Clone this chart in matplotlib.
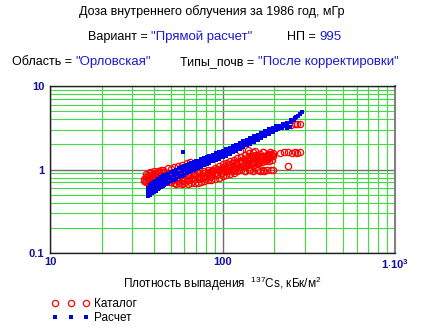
import matplotlib
matplotlib.use("Agg")
import matplotlib.pyplot as plt

plt.rcParams['font.family'] = ['Liberation Sans', 'DejaVu Sans']
plt.rcParams['mathtext.default'] = 'regular'

W, H = 424, 329
BLUE_TXT = '#1a1ad0'
TICK_C = '#10109a'

# --- data ---
# Каталог (red open circles)
cat_x = [35, 35, 36, 36, 36, 37, 37, 37, 38, 38, 38, 38, 39, 39, 39, 40, 40, 40, 40,
         41, 41, 41, 42, 42, 42, 42, 43, 43, 44, 44, 44, 45, 45, 45, 46, 46, 47, 47,
         48, 48, 49, 49, 50,
         36, 38, 40, 42, 44, 46, 48,
         52, 55, 58, 62, 65, 67, 44, 48,
         50, 50, 52, 52, 54, 54, 54, 56, 56, 58, 58, 58, 60, 60, 60, 63, 63, 63,
         66, 66, 66, 69, 69, 69, 72, 72, 72, 75, 75, 75, 78, 78, 78, 82, 82, 82,
         86, 86, 86, 90, 90, 90, 95, 95, 95, 100, 100, 100, 105, 105, 105,
         110, 110, 110, 116, 116, 116, 122, 122, 122, 128, 128, 128,
         135, 135, 135, 135, 142, 142, 142, 142, 150, 150, 150, 150,
         158, 158, 158, 158, 165, 165, 165, 172, 172, 172, 180, 180, 180,
         188, 188, 196, 196,
         84, 92, 98, 108, 113, 119, 125, 132, 139, 146, 154, 162, 169, 177, 185,
         88, 96, 104, 112, 120, 130, 138, 147, 156, 168, 176, 184, 192,
         55, 59, 64, 68, 73, 77, 83, 87, 93, 99, 103, 108, 114, 120, 126, 133,
         140, 148, 155, 163, 170, 178, 186, 194,
         55, 59, 64, 68, 73, 77, 83, 87, 93, 99, 103, 108, 114, 120, 126, 133,
         140, 148, 155, 163, 170, 178, 186, 194,
         115, 125, 135, 145, 160, 175, 190, 196,
         126, 140, 155, 172, 215, 228, 240, 252, 262, 270, 281, 240,
         250, 262, 272, 281]
cat_y = [0.72, 0.78, 0.70, 0.75, 0.82, 0.73, 0.79, 0.86, 0.70, 0.76, 0.83, 0.90, 0.72, 0.78, 0.85,
         0.74, 0.80, 0.88, 0.95, 0.71, 0.77, 0.84, 0.73, 0.80, 0.87, 0.97, 0.75, 0.82,
         0.70, 0.78, 0.86, 0.73, 0.80, 0.99, 0.76, 0.84, 0.72, 0.79, 0.75, 0.83, 0.70, 0.78, 1.02,
         0.88, 0.94, 0.92, 0.91, 0.93, 0.90, 0.92,
         1.07, 1.10, 1.12, 1.18, 1.22, 1.15, 1.00, 1.03,
         0.70, 0.80, 0.68, 0.83, 0.67, 0.76, 0.87, 0.68, 0.81, 0.67, 0.75, 0.85, 0.68, 0.79, 0.88,
         0.67, 0.75, 0.83, 0.68, 0.80, 0.90, 0.68, 0.78, 0.86, 0.69, 0.82, 0.93, 0.70, 0.79, 0.88,
         0.72, 0.84, 0.96, 0.74, 0.88, 1.00, 0.75, 0.83, 0.94, 0.78, 0.90, 1.05, 0.80, 0.95, 1.10,
         0.83, 0.98, 1.15, 0.86, 1.02, 1.20, 0.88, 1.06, 1.25, 0.92, 1.10, 1.30, 0.95, 1.15, 1.36,
         0.98, 1.20, 1.42, 0.97, 1.12, 1.28, 1.50, 1.00, 1.18, 1.35, 1.58, 0.97, 1.22, 1.42, 1.62,
         1.00, 1.18, 1.30, 1.48, 0.97, 1.25, 1.55, 1.00, 1.30, 1.62, 0.98, 1.35, 1.50,
         1.40, 1.60, 1.45, 1.58,
         0.85, 0.87, 0.92, 0.95, 0.99, 1.03, 1.08, 1.10, 1.14, 1.18, 1.22, 1.26, 1.30, 1.34, 1.38,
         0.97, 1.00, 1.05, 1.12, 1.22, 1.26, 1.30, 1.32, 1.38, 1.42, 1.46, 1.52, 1.55,
         0.72, 0.73, 0.74, 0.76, 0.77, 0.80, 0.82, 0.85, 0.88, 0.92, 0.95, 0.98, 1.02, 1.05,
         1.08, 1.10, 1.12, 1.15, 1.20, 1.20, 1.22, 1.25, 1.28, 1.30,
         0.78, 0.82, 0.86, 0.88, 0.90, 0.92, 0.94, 0.98, 1.02, 1.05, 1.10, 1.15, 1.18, 1.20,
         1.25, 1.32, 1.40, 1.45, 1.50, 1.40, 1.45, 1.42, 1.50, 1.48,
         0.96, 0.98, 0.97, 0.99, 0.98, 0.97, 0.99, 1.00,
         1.65, 1.70, 1.68, 1.60, 1.57, 1.60, 1.62, 1.58, 1.60, 1.56, 1.60, 1.10,
         3.45, 3.50, 3.55, 3.50]

# Расчет (blue filled squares)
calc_x = [37, 37, 37, 38, 38, 38, 39, 39, 39, 40, 40, 40, 41, 41, 41, 42, 42, 42,
          43, 43, 43, 44, 44, 44, 45, 45, 45, 46, 46, 46, 47, 47, 47, 48, 48, 48,
          50, 50, 50, 52, 52, 52, 54, 54, 54, 56, 56, 56, 58, 58, 58, 59,
          60, 60, 60, 62, 62, 62, 64, 64, 64, 66, 66, 66, 68, 68, 68, 70, 70, 70,
          72, 72, 72, 75, 75, 75, 78, 78, 78, 81, 81, 81, 84, 84, 84, 88, 88, 88,
          92, 92, 92, 96, 96, 96, 100, 100, 100, 105, 105, 105, 110, 110, 110,
          115, 115, 115, 120, 120, 120, 126, 126, 126, 132, 132, 132, 138, 138, 138,
          145, 145, 145, 152, 152, 152, 160, 160, 160, 168, 168, 168, 176, 176, 176,
          185, 185, 185, 195, 195, 195, 205, 205, 205, 215, 215, 225, 225,
          236, 236, 248, 248, 258, 262, 268, 275, 282, 289,
          210, 222, 235, 245]
calc_y = [0.48, 0.54, 0.60, 0.50, 0.57, 0.65, 0.52, 0.60, 0.68, 0.54, 0.62, 0.70, 0.56, 0.64, 0.73,
          0.58, 0.66, 0.76, 0.60, 0.69, 0.78, 0.62, 0.71, 0.81, 0.63, 0.73, 0.83, 0.65, 0.75, 0.85,
          0.67, 0.77, 0.87, 0.69, 0.79, 0.89, 0.72, 0.82, 0.93, 0.75, 0.86, 0.97, 0.78, 0.89, 1.00,
          0.81, 0.92, 1.04, 0.84, 0.95, 1.07, 1.62,
          0.87, 0.98, 1.10, 0.90, 1.01, 1.13, 0.93, 1.04, 1.16, 0.95, 1.07, 1.19, 0.98, 1.10, 1.22,
          1.01, 1.13, 1.25, 1.04, 1.16, 1.28, 1.08, 1.20, 1.33, 1.12, 1.24, 1.37, 1.16, 1.28, 1.41,
          1.20, 1.33, 1.46, 1.25, 1.38, 1.51, 1.30, 1.43, 1.56, 1.35, 1.48, 1.62, 1.40, 1.54, 1.68,
          1.47, 1.61, 1.76, 1.54, 1.68, 1.83, 1.61, 1.76, 1.91, 1.68, 1.83, 1.99, 1.76, 1.92, 2.08,
          1.85, 2.01, 2.18, 1.94, 2.11, 2.28, 2.04, 2.21, 2.38, 2.15, 2.32, 2.49, 2.27, 2.45, 2.62,
          2.40, 2.57, 2.75, 2.52, 2.70, 2.88, 2.66, 2.84, 3.02, 2.80, 2.98, 3.16, 2.96, 3.12, 3.30,
          3.18, 3.35, 3.36, 3.52, 3.45, 3.60, 3.75, 3.90, 3.95, 4.10, 4.20, 4.40, 4.60, 4.85,
          3.05, 3.10, 3.15, 3.20]

x_ticks = [10, 100, 1000]
x_ticklabels = ['10', '100', r'1$\cdot$10$^3$']
y_ticks = [0.1, 1, 10]
y_ticklabels = ['0.1', '1', '10']

fig = plt.figure(figsize=(W / 100, H / 100), dpi=100)
ax = fig.add_axes([50 / W, 1 - 253 / H, 345 / W, 167 / H])
ax.set_xscale('log')
ax.set_yscale('log')
ax.set_xlim(10, 1000)
ax.set_ylim(0.1, 10)

ax.grid(True, which='minor', color='#3ede3e', lw=0.8)
ax.grid(True, which='major', color='#707070', lw=1.0)
ax.set_axisbelow(True)

ax.plot(cat_x, cat_y, 'o', ls='none', mfc='none', mec='#ff0000', ms=4.5, mew=0.9, label='Каталог')
ax.plot(calc_x, calc_y, 's', ls='none', color='#0000e8', ms=3.4, mew=0, label='Расчет')

ax.set_xticks(x_ticks, x_ticklabels)
ax.set_yticks(y_ticks, y_ticklabels)
ax.tick_params(which='both', length=0)
ax.tick_params(axis='y', pad=4)
ax.tick_params(axis='x', pad=3)
for lab in ax.get_xticklabels() + ax.get_yticklabels():
    lab.set_color(TICK_C)
    lab.set_fontweight('bold')
    lab.set_fontsize(8)

for s in ['top', 'left', 'bottom']:
    ax.spines[s].set_color('#202020')
    ax.spines[s].set_linewidth(1.0)
ax.spines['right'].set_color('#808080')
ax.spines['right'].set_linewidth(1.5)

ax.set_xlabel('Плотность выпадения  $^{137}$Cs, кБк/м$^2$', fontsize=8.5, labelpad=3)

leg = ax.legend(loc='upper left', bbox_to_anchor=(47 / W, 1 - 293 / H),
                bbox_transform=fig.transFigure, frameon=False, numpoints=3,
                handlelength=3.2, handletextpad=0.4, labelspacing=0.2,
                fontsize=8.5, borderaxespad=0)

# --- header lines ---
def fx(px):
    return px / W

def fy(py):
    return 1 - py / H

fig.text(fx(212), fy(12), 'Доза внутреннего облучения за 1986 год, мГр',
         ha='center', va='center', fontsize=9)


def pair(px, py, key, val):
    t = fig.text(fx(px), fy(py), key, ha='left', va='bottom', fontsize=9)
    ax.annotate(val, xy=(1, 0), xycoords=t, va='bottom', ha='left',
                fontsize=9.5, color=BLUE_TXT, annotation_clip=False)


pair(88, 43, 'Вариант = ', '"Прямой расчет"')
pair(287, 43, 'НП = ', '995')
pair(12, 68, 'Область = ', '"Орловская"')
pair(180, 68, 'Типы_почв = ', '"После корректировки"')

fig.savefig('out.png', dpi=100)
